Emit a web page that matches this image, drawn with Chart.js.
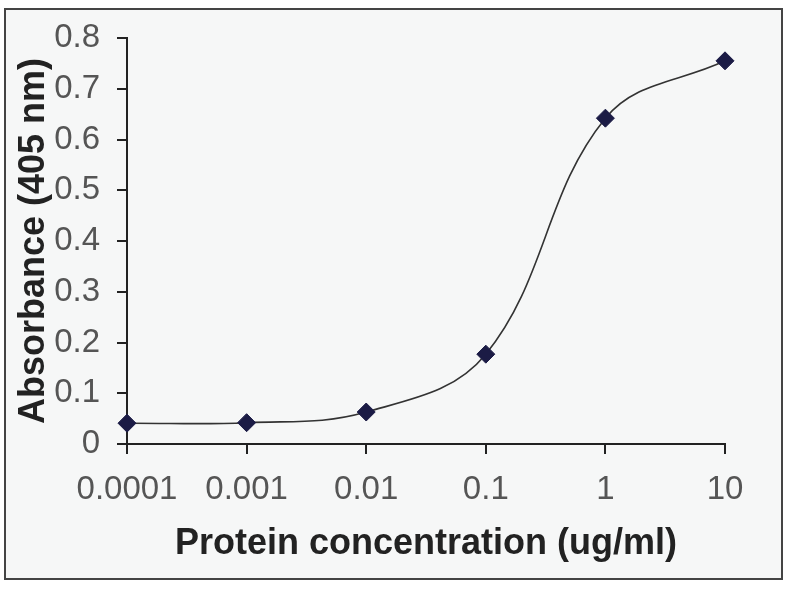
<!DOCTYPE html>
<html>
<head>
<meta charset="utf-8">
<script src="https://cdn.jsdelivr.net/npm/chart.js@4/dist/chart.umd.min.js"></script>
<style>
  body { margin: 0; background: #fff; }
  #frame {
    position: absolute; left: 4px; top: 8px;
    width: 775px; height: 568px;
    border: 2px solid #444; background: #f6f7f7;
  }
  #wrap { position: absolute; left: 0; top: 0; width: 800px; height: 600px; }
</style>
</head>
<body>
<div id="frame"></div>
<div id="wrap"><canvas id="chart" width="800" height="600"></canvas></div>
<script>
// concentration (ug/ml) and absorbance at 405 nm
var concentration = [0.0001, 0.001, 0.01, 0.1, 1, 10];
var absorbance    = [0.041, 0.042, 0.063, 0.177, 0.642, 0.755];

// axis ticks
var xTicks = [0.0001, 0.001, 0.01, 0.1, 1, 10];
var xTickLabels = ['0.0001', '0.001', '0.01', '0.1', '1', '10'];
var yTicks = [0, 0.1, 0.2, 0.3, 0.4, 0.5, 0.6, 0.7, 0.8];
var yTickLabels = ['0', '0.1', '0.2', '0.3', '0.4', '0.5', '0.6', '0.7', '0.8'];

var xTitle = 'Protein concentration (ug/ml)';
var yTitle = 'Absorbance (405 nm)';

var points = concentration.map(function (c, i) { return { x: c, y: absorbance[i] }; });

var tickFont  = { family: '"Liberation Sans", Arial, sans-serif', size: 33 };
var titleFont = { family: '"Liberation Sans", Arial, sans-serif', size: 36, weight: 'bold' };

new Chart(document.getElementById('chart').getContext('2d'), {
    type: 'line',
    data: {
        datasets: [{
            data: points,
            borderColor: '#333',
            borderWidth: 1.6,
            tension: 0.38,
            fill: false,
            clip: false,
            pointStyle: 'rectRot',
            pointRadius: 9,
            pointBackgroundColor: '#1b1b45',
            pointBorderColor: '#1b1b45',
            pointBorderWidth: 1
        }]
    },
    options: {
        responsive: false,
        animation: false,
        events: [],
        layout: { padding: { left: 10, right: 75, top: 38, bottom: 20 } },
        plugins: { legend: { display: false }, tooltip: { enabled: false } },
        scales: {
            x: {
                type: 'logarithmic',
                min: 0.0001,
                max: 10,
                afterBuildTicks: function (scale) {
                    scale.ticks = xTicks.map(function (v) { return { value: v }; });
                },
                afterFit: function (scale) { scale.height = 136; },
                grid: {
                    drawOnChartArea: false, drawTicks: true, tickLength: 10,
                    color: '#222', lineWidth: 2
                },
                border: { color: '#222', width: 2 },
                ticks: {
                    color: '#555', font: tickFont, padding: 16, maxRotation: 0, autoSkip: false,
                    callback: function (v) {
                        var i = xTicks.indexOf(v);
                        return i >= 0 ? xTickLabels[i] : '';
                    }
                },
                title: {
                    display: true, text: xTitle, color: '#222', font: titleFont,
                    padding: { top: 0, bottom: 14 }
                }
            },
            y: {
                min: 0,
                max: 0.8,
                afterBuildTicks: function (scale) {
                    scale.ticks = yTicks.map(function (v) { return { value: v }; });
                },
                afterFit: function (scale) { scale.width = 117; },
                grid: {
                    drawOnChartArea: false, drawTicks: true, tickLength: 10,
                    color: '#222', lineWidth: 2
                },
                border: { color: '#222', width: 2 },
                ticks: {
                    color: '#555', font: tickFont, padding: 17,
                    callback: function (v, i) { return yTickLabels[i]; }
                },
                title: {
                    display: true, text: yTitle, color: '#222', font: titleFont,
                    padding: { top: 2, bottom: 0 }
                }
            }
        }
    }
});
</script>
</body>
</html>
